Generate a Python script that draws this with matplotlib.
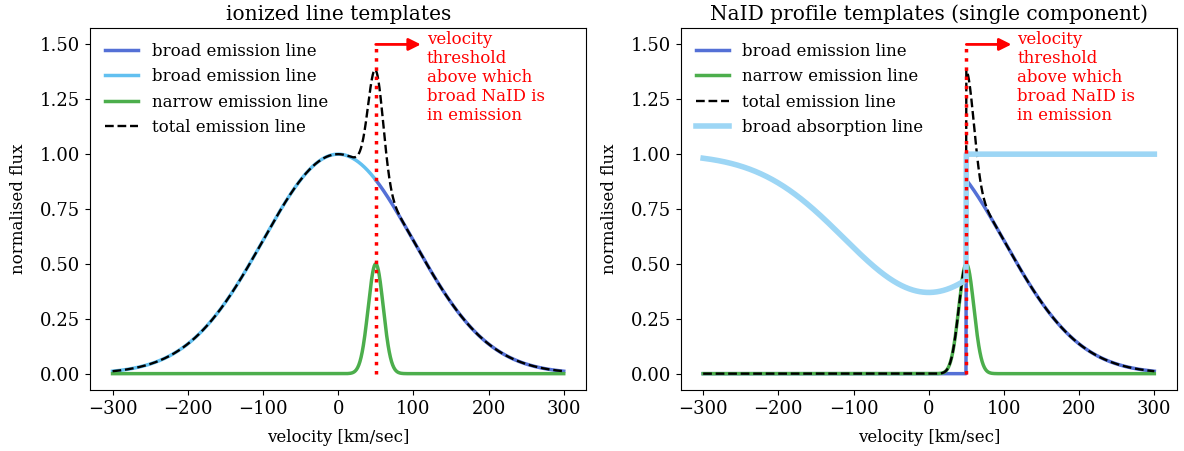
import numpy as np
import matplotlib.pyplot as plt

plt.rcParams['font.family'] = ['DejaVu Serif']

# velocity grid [km/sec]
v_min, v_max = -300.0, 300.0
v_threshold = 50.0

# template parameters: amplitude, centre [km/s], sigma [km/s]
broad_em = [1.0, 0.0, 100.0]
narrow_em = [0.5, 50.0, 10.0]
broad_abs = [0.63, 0.0, 113.0]   # depth, centre, sigma

arrow_end = 110.0
arrow_y = 1.5
note = "velocity\nthreshold\nabove which\nbroad NaID is\nin emission"

c_blue = '#5470d6'
c_lblue = '#62c0f0'
c_green = '#4cae4c'
c_abs = '#9dd6f5'


def gauss(v, amp, mu, sig):
    return amp * np.exp(-0.5 * ((v - mu) / sig) ** 2)


v = np.linspace(v_min, v_max, 1201)
above = v >= v_threshold

fig, (ax1, ax2) = plt.subplots(1, 2, figsize=(11.84, 4.51), dpi=100)
fig.subplots_adjust(left=0.076, right=0.994, top=0.938, bottom=0.135, wspace=0.19)

# --- ionized templates
broad = gauss(v, *broad_em)
narrow = gauss(v, *narrow_em)
total = broad + narrow

ax1.plot(v[above], broad[above], color=c_blue, lw=2.5, label='broad emission line')
ax1.plot(v[v <= v_threshold], broad[v <= v_threshold], color=c_lblue, lw=2.5,
         label='broad emission line')
ax1.plot(v, narrow, color=c_green, lw=2.5, label='narrow emission line')
ax1.plot(v, total, 'k--', lw=1.7, label='total emission line')
ax1.set_title('ionized line templates', fontsize=14.5)

# --- NaID templates
broad_n = np.where(above, broad, 0.0)
total_n = broad_n + narrow
absorb = np.where(above, 1.0, 1.0 - gauss(v, *broad_abs))

ax2.plot(v, broad_n, color=c_blue, lw=2.5, label='broad emission line')
ax2.plot(v, narrow, color=c_green, lw=2.5, label='narrow emission line')
ax2.plot(v, total_n, 'k--', lw=1.7, label='total emission line')
ax2.plot(v, absorb, color=c_abs, lw=4, label='broad absorption line')
ax2.set_title('NaID profile templates (single component)', fontsize=14.5)

for ax in (ax1, ax2):
    ax.plot([v_threshold, v_threshold], [0, arrow_y], color='red', ls=':', lw=2.5)
    ax.annotate('', xy=(arrow_end, arrow_y), xytext=(v_threshold, arrow_y),
                arrowprops=dict(arrowstyle='-|>', color='red', lw=2, mutation_scale=18,
                                shrinkA=0, shrinkB=0))
    ax.text(arrow_end + 8, arrow_y + 0.06, note, color='red', fontsize=12,
            va='top', ha='left', linespacing=1.15)
    ax.set_xlabel('velocity [km/sec]', fontsize=12, labelpad=8)
    ax.set_ylabel('normalised flux', fontsize=12, labelpad=9)
    ax.set_yticks([0, 0.25, 0.5, 0.75, 1.0, 1.25, 1.5])
    ax.tick_params(labelsize=13)
    ax.legend(loc='upper left', frameon=False, fontsize=12)

fig.savefig('out.png', dpi=100)
